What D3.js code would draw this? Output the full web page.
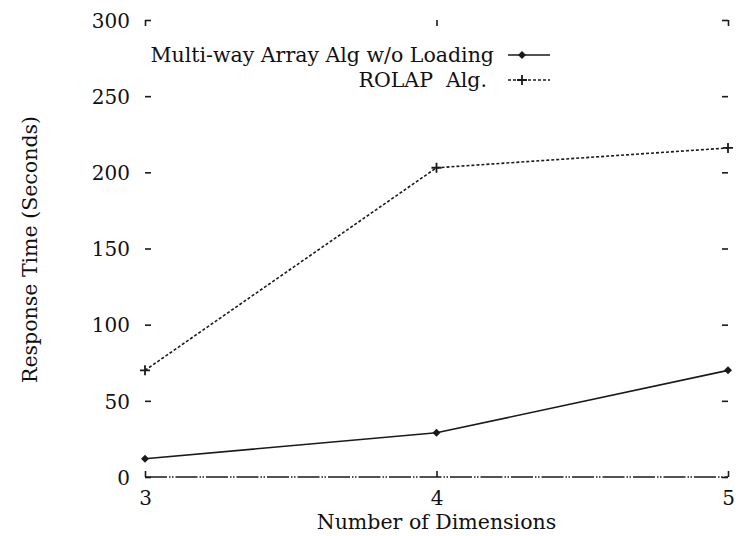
<!DOCTYPE html>
<html>
<head>
<meta charset="utf-8">
<script src="https://cdn.jsdelivr.net/npm/d3@7"></script>
<style>
	body { margin: 0; background: #fff; }
	svg text { font-family: 'DejaVu Serif', 'Liberation Serif', serif; fill: #111; white-space: pre; }
</style>
</head>
<body>
<div id="chart"></div>
<script>

var dimensions = [3, 4, 5];
var multiway = [12, 29, 70];
var rolap = [70, 203, 216];
var yticks = [0, 50, 100, 150, 200, 250, 300];
var series = [
	{ name: 'Multi-way Array Alg w/o Loading', values: multiway, dash: null, marker: 'diamond' },
	{ name: 'ROLAP  Alg.', values: rolap, dash: '3,2', marker: 'plus' }
];

var width = 736;
var height = 536;
var m = { left: 145, right: 728, top: 20, bottom: 477 };

var svg = d3.select('#chart').append('svg').attr('width', width).attr('height', height);

var x = d3.scaleLinear().domain([3, 5]).range([m.left, m.right]);
var y = d3.scaleLinear().domain([0, 300]).range([m.bottom, m.top]);

var ink = '#1a1a1a';
var tick = 6;
var fs = '20px';
var fsl = '20.5px';

function strip(g) {
	g.select('.domain').remove();
	g.selectAll('line').attr('stroke', ink).attr('stroke-width', 1.6);
}

// y ticks on both sides (inward)
var gl = svg.append('g').attr('transform', 'translate(' + m.left + ',0)')
	.call(d3.axisLeft(y).tickValues(yticks).tickSize(-tick).tickPadding(15));
strip(gl);
gl.selectAll('text').style('font-size', fs).attr('dy', '0.36em');

var gr = svg.append('g').attr('transform', 'translate(' + m.right + ',0)')
	.call(d3.axisRight(y).tickValues(yticks).tickSize(-tick).tickFormat(''));
strip(gr);

// x ticks bottom and top (inward)
var gb = svg.append('g').attr('transform', 'translate(0,' + m.bottom + ')')
	.call(d3.axisBottom(x).tickValues(dimensions).tickSize(-tick).tickPadding(14).tickFormat(d3.format('d')));
strip(gb);
gb.selectAll('text').style('font-size', fs);

var gt = svg.append('g').attr('transform', 'translate(0,' + m.top + ')')
	.call(d3.axisTop(x).tickValues(dimensions).tickSize(-tick).tickFormat(''));
strip(gt);

// bottom border drawn dash-dot
svg.append('line')
	.attr('x1', x(3)).attr('x2', x(5))
	.attr('y1', y(0)).attr('y2', y(0))
	.attr('stroke', ink).attr('stroke-width', 1.6)
	.attr('stroke-dasharray', '22,2,1.5,1.5,1.5,2');

// axis titles
svg.append('text')
	.attr('x', (m.left + m.right) / 2).attr('y', 529)
	.attr('text-anchor', 'middle')
	.style('font-size', fsl)
	.text('Number of Dimensions');

svg.append('text')
	.attr('transform', 'translate(37,' + ((m.top + m.bottom) / 2 + 1) + ') rotate(-90)')
	.attr('text-anchor', 'middle')
	.style('font-size', fsl)
	.text('Response Time (Seconds)');

var line = d3.line()
	.x(function(d, i) { return x(dimensions[i]); })
	.y(function(d) { return y(d); });

function marker(g, type, cx, cy) {
	if (type === 'diamond') {
		g.append('path')
			.attr('d', 'M' + cx + ' ' + (cy - 4) + ' L' + (cx + 4) + ' ' + cy + ' L' + cx + ' ' + (cy + 4) + ' L' + (cx - 4) + ' ' + cy + ' Z')
			.attr('fill', ink);
	} else {
		g.append('path')
			.attr('d', 'M' + (cx - 5) + ' ' + cy + ' H' + (cx + 5) + ' M' + cx + ' ' + (cy - 5) + ' V' + (cy + 5))
			.attr('stroke', ink).attr('stroke-width', 1.8);
	}
}

var plot = svg.append('g');

series.forEach(function(s, si) {
	plot.append('path')
		.datum(s.values)
		.attr('d', line)
		.attr('fill', 'none')
		.attr('stroke', ink)
		.attr('stroke-width', 1.6)
		.attr('stroke-dasharray', s.dash);

	s.values.forEach(function(v, i) {
		marker(plot, s.marker, x(dimensions[i]), y(v));
	});

	// legend
	var ly = 55 + si * 25;
	svg.append('text')
		.attr('x', si ? 487 : 494).attr('y', ly)
		.attr('dy', '0.33em')
		.attr('text-anchor', 'end')
		.style('font-size', fsl)
		.text(s.name);
	svg.append('line')
		.attr('x1', 508).attr('x2', 550)
		.attr('y1', ly).attr('y2', ly)
		.attr('stroke', ink).attr('stroke-width', 1.6)
		.attr('stroke-dasharray', s.dash);
	marker(svg, s.marker, 522, ly);
});

</script>
</body>
</html>
